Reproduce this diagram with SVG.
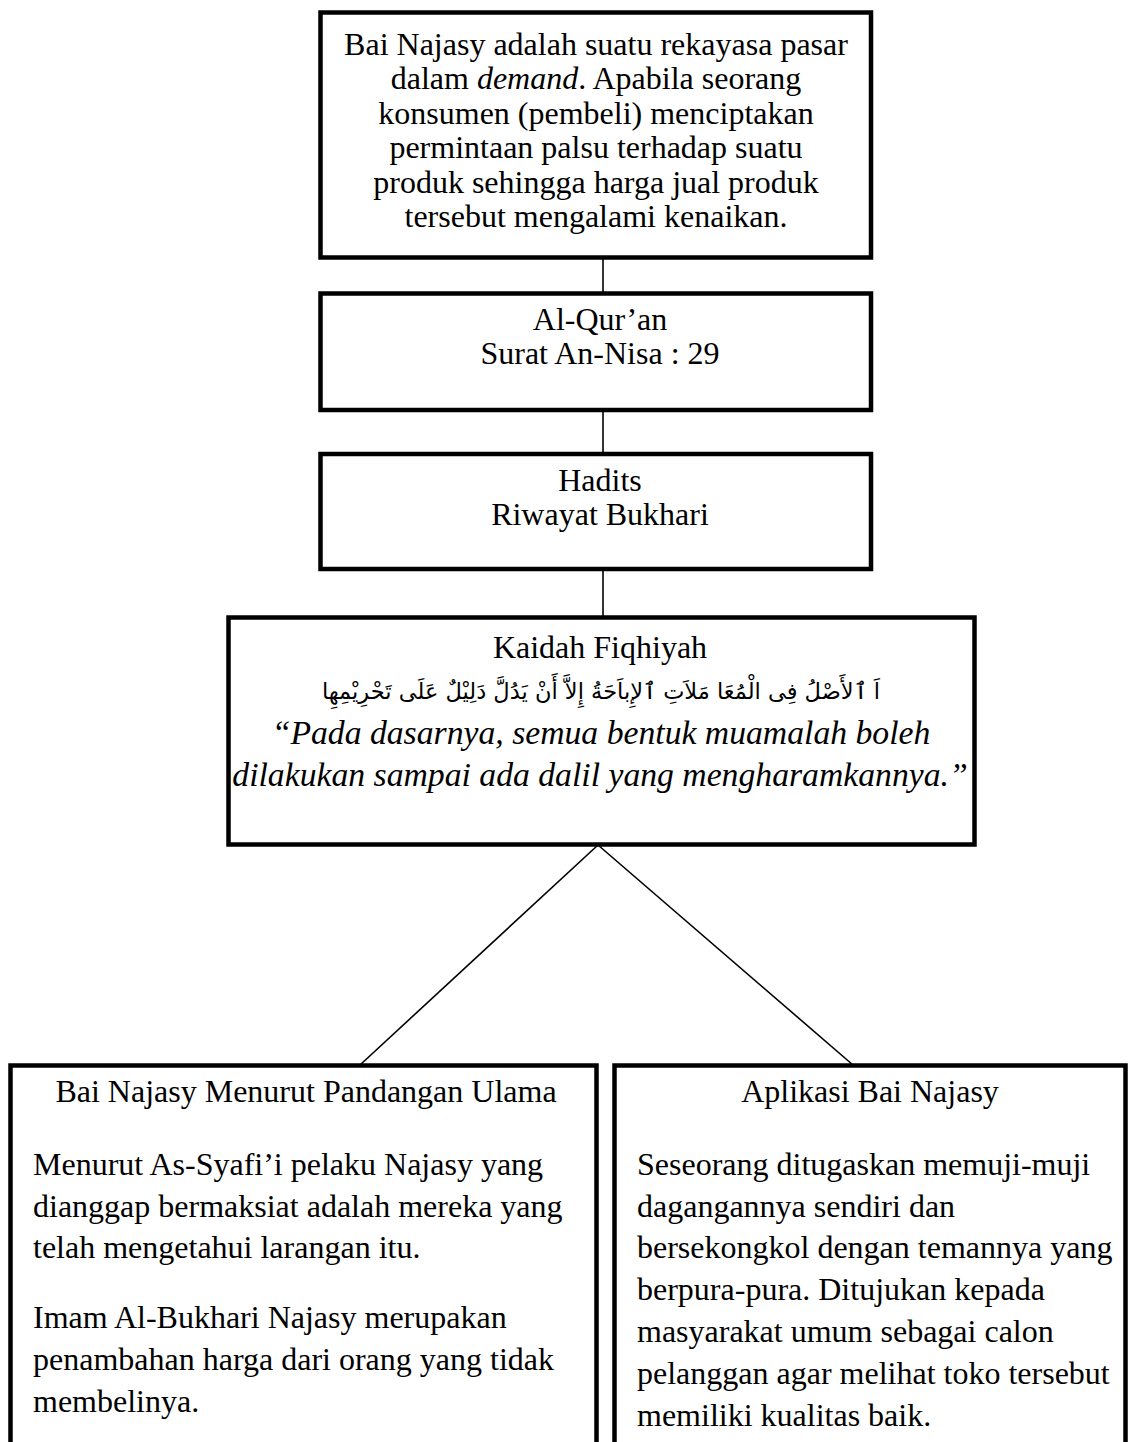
<svg xmlns="http://www.w3.org/2000/svg" width="1129" height="1442" viewBox="0 0 1129 1442">
<style>
.box{fill:#fff;stroke:#000;stroke-width:4.5}
.ln{stroke:#000;stroke-width:1.6;fill:none}
text{font-family:"Liberation Serif","Times New Roman",serif;font-size:32px;fill:#000}
.c{text-anchor:middle}
.i{font-style:italic}
.q{font-size:33.7px}
.ar{font-family:"DejaVu Sans",sans-serif;font-size:22.5px;direction:rtl}
</style>
<rect width="1129" height="1442" fill="#fff"/>
<g id="connectors">
<line class="ln" x1="603" y1="258" x2="603" y2="293"/>
<line class="ln" x1="603" y1="410" x2="603" y2="454"/>
<line class="ln" x1="603" y1="569" x2="603" y2="617"/>
<line class="ln" x1="598" y1="845" x2="360" y2="1065"/>
<line class="ln" x1="598" y1="845" x2="853" y2="1065"/>
</g>
<g id="n1">
<rect class="box" x="320.5" y="12.5" width="550.5" height="245"/>
<text class="c" x="596" y="55">Bai Najasy adalah suatu rekayasa pasar</text>
<text class="c" x="596" y="89">dalam <tspan class="i">demand</tspan>. Apabila seorang</text>
<text class="c" x="596" y="124">konsumen (pembeli) menciptakan</text>
<text class="c" x="596" y="158">permintaan palsu terhadap suatu</text>
<text class="c" x="596" y="193">produk sehingga harga jual produk</text>
<text class="c" x="596" y="227">tersebut mengalami kenaikan.</text>
</g>
<g id="n2">
<rect class="box" x="320.5" y="293.5" width="550.5" height="116.5"/>
<text class="c" x="600" y="330">Al-Qur’an</text>
<text class="c" x="600" y="364">Surat An-Nisa : 29</text>
</g>
<g id="n3">
<rect class="box" x="320.5" y="454" width="550.5" height="115"/>
<text class="c" x="600" y="491">Hadits</text>
<text class="c" x="600" y="525">Riwayat Bukhari</text>
</g>
<g id="n4">
<rect class="box" x="228.5" y="617.5" width="746" height="227"/>
<text class="c" x="600" y="658">Kaidah Fiqhiyah</text>
<text class="ar" x="880" y="699">اَ ٱلأَصْلُ فِى الْمُعَا مَلاَتِ ٱلإِباَحَةُ إِلاَّ أَنْ يَدُلَّ دَلِيْلٌ عَلَى تَحْرِيْمِهِا</text>
<text class="c i q" x="601" y="744">“Pada dasarnya, semua bentuk muamalah boleh</text>
<text class="c i q" x="600" y="786">dilakukan sampai ada dalil yang mengharamkannya.”</text>
</g>
<g id="n5">
<rect class="box" x="10.5" y="1065.5" width="586" height="400"/>
<text class="c" x="306" y="1102">Bai Najasy Menurut Pandangan Ulama</text>
<text x="33" y="1175">Menurut As-Syafi’i pelaku Najasy yang</text>
<text x="33" y="1217">dianggap bermaksiat adalah mereka yang</text>
<text x="33" y="1258">telah mengetahui larangan itu.</text>
<text x="33" y="1328">Imam Al-Bukhari Najasy merupakan</text>
<text x="33" y="1370">penambahan harga dari orang yang tidak</text>
<text x="33" y="1412">membelinya.</text>
</g>
<g id="n6">
<rect class="box" x="614.5" y="1065.5" width="511" height="400"/>
<text class="c" x="870" y="1102">Aplikasi Bai Najasy</text>
<text x="637" y="1175">Seseorang ditugaskan memuji-muji</text>
<text x="637" y="1217">dagangannya sendiri dan</text>
<text x="637" y="1258">bersekongkol dengan temannya yang</text>
<text x="637" y="1300">berpura-pura. Ditujukan kepada</text>
<text x="637" y="1342">masyarakat umum sebagai calon</text>
<text x="637" y="1384">pelanggan agar melihat toko tersebut</text>
<text x="637" y="1426">memiliki kualitas baik.</text>
</g>
</svg>
